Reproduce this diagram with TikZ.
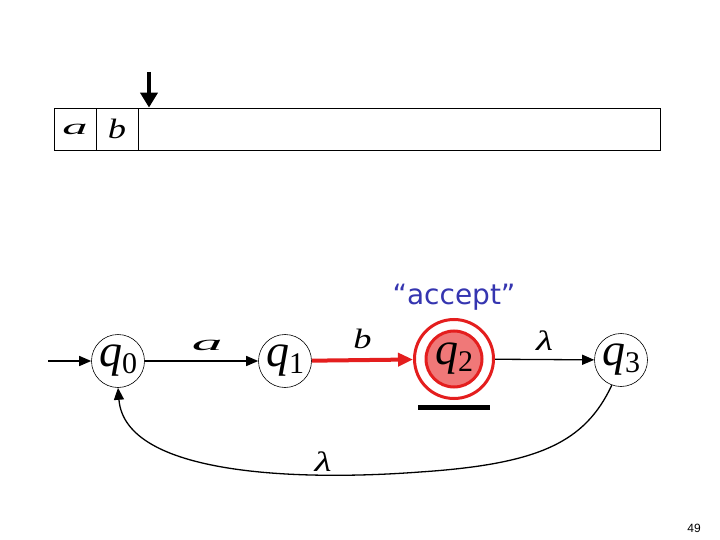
\documentclass[tikz,border=0pt]{standalone}
\usepackage{fontspec}
\setmainfont{Liberation Serif}
\newfontfamily\acceptfont{DejaVu Sans}
\newfontfamily\pagefont{Liberation Sans}
\usetikzlibrary{
  positioning,
  arrows.meta
}
\definecolor{acceptred}{HTML}{E41E1E}
\definecolor{acceptfill}{HTML}{F07878}
\definecolor{acceptblue}{HTML}{3535B0}
\newcommand{\stlabel}[1]{{\fontsize{46}{46}\selectfont\itshape q}\raisebox{-7pt}{\fontsize{30}{30}\selectfont #1}}
\newcommand{\sym}[3]{\scalebox{#1}[1]{\fontsize{#2}{#2}\selectfont\itshape #3}}

\begin{document}
\begin{tikzpicture}[
  x=1pt, y=-1pt,
  state/.style={draw, circle, minimum size=53pt, inner sep=0pt, line width=0.6pt},
  cell/.style={draw, minimum height=42pt, inner sep=0pt, line width=0.8pt},
  lbl/.style={inner sep=0pt},
  edge/.style={-{Triangle[length=12pt,width=10pt]}, line width=1.3pt}
]
  \useasboundingbox (0,0) rectangle (720,540);
  % tape and head
  \node[cell, minimum width=42pt] (cella) at (75,129) {\sym{2.3}{22}{a}};
  \node[cell, minimum width=42pt] (cellb) at (117,129) {\sym{1.3}{28}{b}};
  \node[cell, minimum width=522pt] (tape) at (399,129) {};
  \coordinate (headtop) at (149,72);
  \draw[-{Triangle[length=15pt,width=17pt]}, line width=4pt] (headtop) -- (headtop |- tape.north);
  % states
  \node[state] (q0) at (118,361) {\stlabel{0}};
  \node[state] (q1) at (285,361) {\stlabel{1}};
  \node[circle, draw=acceptred, line width=3pt, minimum size=79pt, inner sep=0pt] (q2) at (454,359) {};
  \node[circle, draw=acceptred, line width=3pt, fill=acceptfill, minimum size=56pt, inner sep=0pt] (q2in) at (q2) {\stlabel{2}};
  \node[state] (q3) at (621,360) {\stlabel{3}};
  \node[text=acceptblue, font=\acceptfont\fontsize{28}{28}\selectfont, above=4pt of q2] (accept) {“accept”};
  \node[fill=black, minimum width=72pt, minimum height=5pt, inner sep=0pt, below=4.5pt of q2] (bar) {};
  % transitions
  \coordinate (start) at (48,361);
  \coordinate (loopmid) at (420,472);
  \draw[edge] (start) -- (q0);
  \draw[edge] (q0) -- node[lbl, pos=0.55, above=10pt] {\sym{2.8}{22}{a}} (q1);
  \draw[-{Triangle[length=15pt,width=13pt]}, line width=4pt, acceptred] (q1) -- node[lbl, above=9pt, black] {\sym{1.3}{28}{b}} (q2);
  \draw[edge] (q2) -- node[lbl, above=8pt] {\sym{1.4}{28}{λ}} (q3);
  \draw[edge] (q3.250) .. controls (585,442) and (540,464) .. (loopmid)
    .. controls (300,481) and (125,476) .. node[lbl, pos=0.25, above=3pt] {\sym{1.4}{28}{λ}} (q0.south);
  \node[font=\pagefont\fontsize{12}{12}\selectfont] (pagenum) at (694,528) {49};
\end{tikzpicture}
\end{document}
